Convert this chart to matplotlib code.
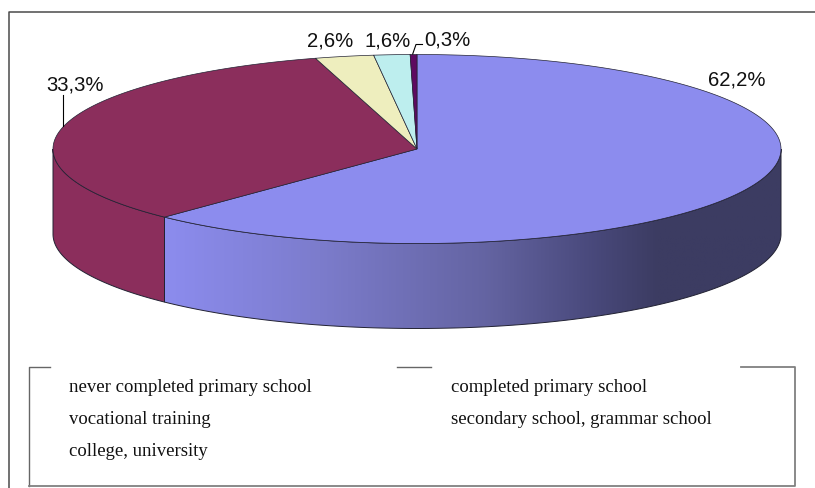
import numpy as np
import matplotlib
matplotlib.use("Agg")
import matplotlib.pyplot as plt
from matplotlib.colors import LinearSegmentedColormap
from matplotlib.patches import Polygon

# data, clockwise from 12 o'clock
shares = [62.2, 33.3, 2.6, 1.6, 0.3]
labels = ["62,2%", "33,3%", "2,6%", "1,6%", "0,3%"]
colors = ["#8C8CEE", "#8B2E5C", "#EEEEBE", "#BDEEEE", "#5E0A60"]
legend_left = ["never completed primary school", "vocational training", "college, university"]
legend_right = ["completed primary school", "secondary school, grammar school"]

W, H = 815, 489
cx, cy, rx, ry, depth = 417, 150, 364, 94.5, 85


def ell(t):
    # t = degrees clockwise from top of the pie
    t = np.radians(t)
    return cx + rx * np.sin(t), cy - ry * np.cos(t)


fig = plt.figure(figsize=(W / 100, H / 100), dpi=100)
ax = fig.add_axes([0, 0, 1, 1])
ax.set_xlim(0, W)
ax.set_ylim(H, 0)
ax.set_axis_off()

edges = np.concatenate([[0], np.cumsum(shares)]) / sum(shares) * 360

# outer frame
ax.plot([9, 9, W], [H, 12.5, 12.5], color="#4A4A4A", lw=1.1)

# side wall, only the front half (90..270) shows
for i in range(2):
    a0, a1 = max(edges[i], 90), min(edges[i + 1], 270)
    t = np.linspace(a0, a1, 200)
    x, y = ell(t)
    pts = np.vstack([np.c_[x, y], np.c_[x, y + depth][::-1]])
    if i == 0:
        poly = Polygon(pts, fc="none", ec="none")
        ax.add_patch(poly)
        cmap = LinearSegmentedColormap.from_list(
            "wall", [(0, colors[0]), (0.25, "#7C7CCC"), (0.52, "#6464A2"),
                     (0.7, "#48487A"), (0.8, "#3C3C62"), (1, "#3C3C62")])
        im = ax.imshow(np.linspace(0, 1, 256)[None, :], cmap=cmap, aspect="auto",
                       extent=[x.min(), x.max(), y.max() + depth, y.min()], zorder=1)
        im.set_clip_path(poly)
        ax.set_xlim(0, W)
        ax.set_ylim(H, 0)
        ax.add_patch(Polygon(pts, fc="none", ec="#222233", lw=0.7, zorder=2))
    else:
        ax.add_patch(Polygon(pts, fc=colors[1], ec="#222233", lw=0.7, zorder=2))

# top face
for i, c in enumerate(colors):
    x, y = ell(np.linspace(edges[i], edges[i + 1], 200))
    pts = np.vstack([[cx, cy], np.c_[x, y]])
    ax.add_patch(Polygon(pts, fc=c, ec="#222233", lw=0.5, zorder=3))

# value labels with leader lines
label_pos = [(737, 80), (75, 85), (330, 41), (388, 41), (447, 40)]
for s, (lx, ly) in zip(labels, label_pos):
    ax.text(lx, ly, s, ha="center", va="center", fontsize=14.6,
            family="Liberation Sans", color="#111111", zorder=5)
ax.plot([63, 63], [96, 127], color="black", lw=0.8, zorder=4)
ax.plot([412.7, 416, 422.5], [55, 45.5, 45.5], color="black", lw=0.8, zorder=4)

# legend box, top edge is broken where the key was
ax.plot([50, 28.5, 28.5], [367.5, 367.5, 487], color="#666666", lw=1)
ax.plot([28.5, 794.5, 794.5, 741], [487, 487, 367.5, 367.5], color="#808080", lw=1.3)
ax.plot([397, 431], [367.5, 367.5], color="#666666", lw=1)
for s, y in zip(legend_left, [387, 419, 451]):
    ax.text(69, y, s, ha="left", va="center", fontsize=13.5,
            family="Liberation Serif", color="#111111")
for s, y in zip(legend_right, [387, 419]):
    ax.text(451, y, s, ha="left", va="center", fontsize=13.5,
            family="Liberation Serif", color="#111111")

fig.savefig("out.png", dpi=100)
